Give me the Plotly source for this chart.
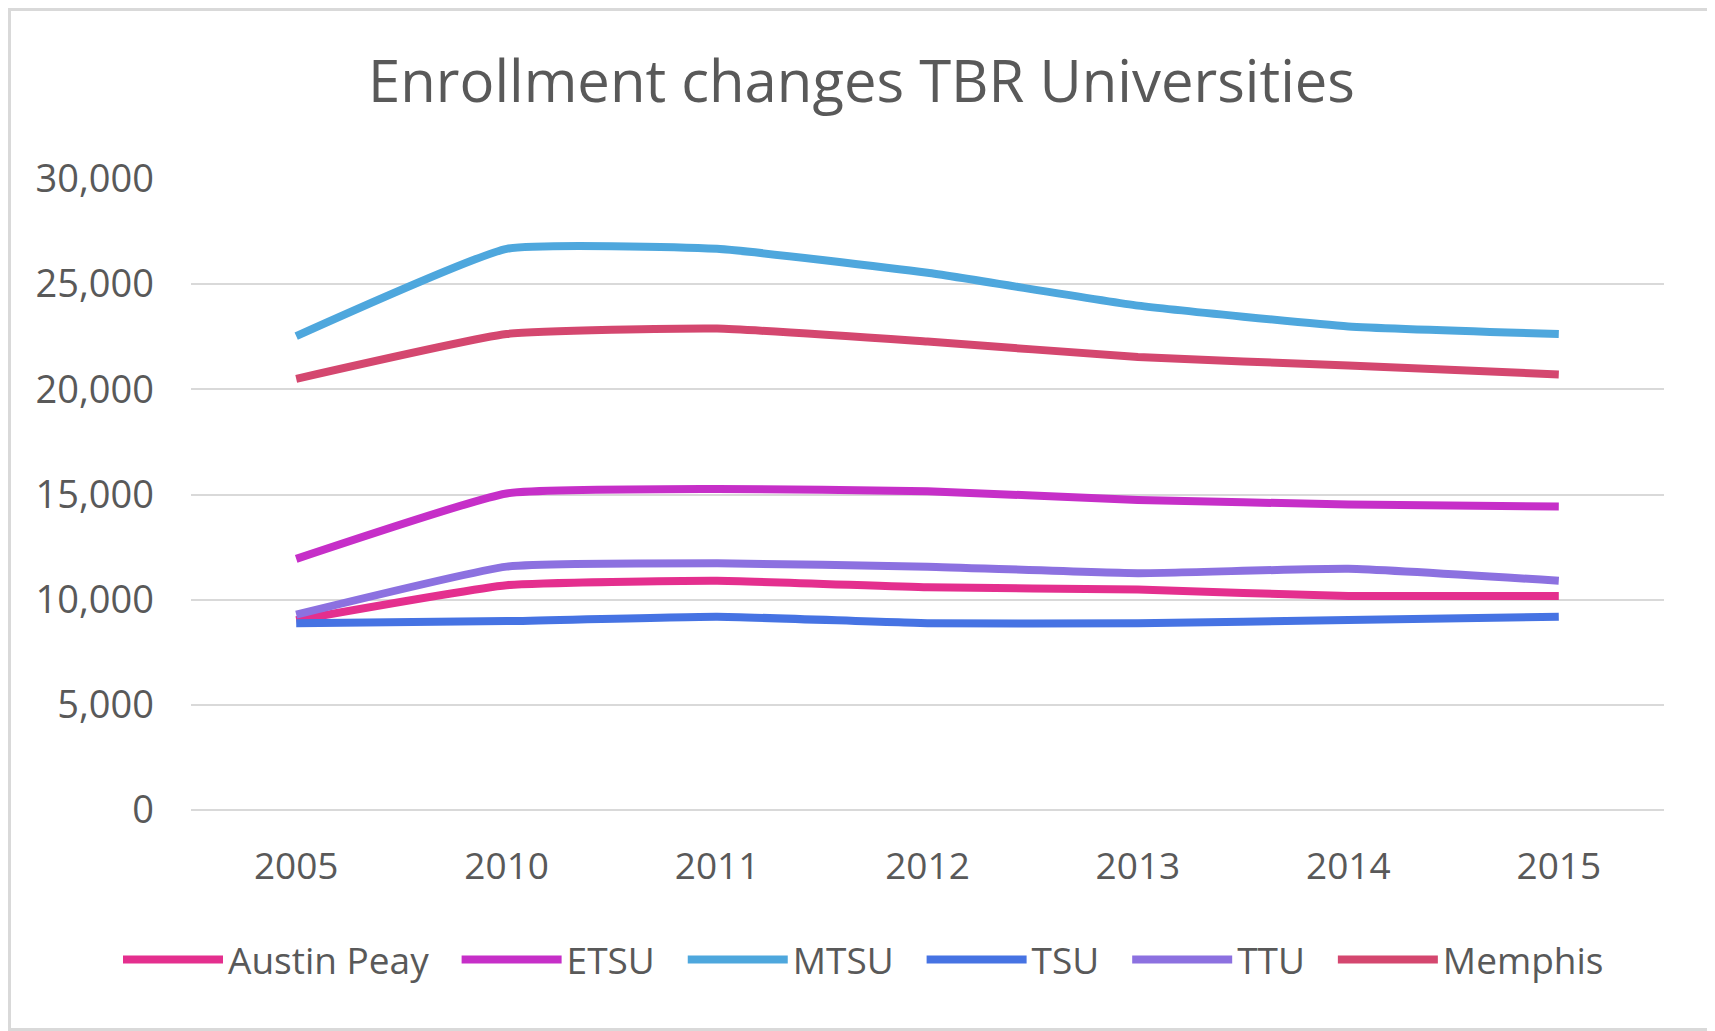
import plotly.graph_objects as go

# values
years = ['2005', '2010', '2011', '2012', '2013', '2014', '2015']
austin_peay = [9030, 10690, 10900, 10590, 10480, 10170, 10170]
etsu = [11940, 15050, 15260, 15160, 14740, 14530, 14430]
mtsu = [22530, 26680, 26680, 25540, 23980, 22990, 22630]
tsu = [8880, 8980, 9190, 8880, 8880, 9030, 9190]
ttu = [9290, 11570, 11730, 11570, 11260, 11470, 10900]
memphis = [20500, 22630, 22890, 22270, 21540, 21130, 20710]

series = [
    ('Austin Peay', austin_peay, '#E42F8E'),
    ('ETSU', etsu, '#C62FC8'),
    ('MTSU', mtsu, '#4EA7DD'),
    ('TSU', tsu, '#4673E3'),
    ('TTU', ttu, '#8C71E0'),
    ('Memphis', memphis, '#D4476F'),
]

# the page body has an 8px margin, so the figure is a bit smaller than the window
W, H = 1707, 1023
ml, mr, mt, mb = 183, 51, 171, 221
pw, ph = W - ml - mr, H - mt - mb

fig = go.Figure()
for i, (name, vals, col) in enumerate(series):
    # a little trailing space widens the gap between legend entries
    label = name if i == len(series) - 1 else name + '\u00a0\u00a0\u200a'
    fig.add_trace(go.Scatter(
        x=years, y=vals, name=label, mode='lines',
        line=dict(color=col, width=8, shape='spline', smoothing=0.4),
    ))

# legend anchored left of the plot area so it may use the left margin too (no wrapping)
fig.update_layout(
    width=W, height=H,
    margin=dict(l=ml, r=mr, t=mt, b=mb, autoexpand=False),
    plot_bgcolor='white', paper_bgcolor='white',
    title=dict(text='Enrollment changes TBR Universities', x=0.5, xanchor='center',
               y=1 - 74 / H, yanchor='middle',
               font=dict(family='Open Sans', size=58, color='#595959')),
    legend=dict(orientation='h', x=(110 - ml) / pw, xanchor='left', y=-150 / ph, yanchor='middle',
                font=dict(family='Open Sans', size=37, color='#595959'),
                itemwidth=100, tracegroupgap=0),
    showlegend=True,
)

fig.update_xaxes(type='category', range=[-0.5, len(years) - 0.5], showgrid=False, showline=False,
                 ticks='', automargin=False,
                 tickfont=dict(family='Open Sans', size=37, color='#595959'), ticklabelstandoff=31)
fig.update_yaxes(range=[0, 30000], dtick=5000, tickformat=',d', gridcolor='#D9D9D9', gridwidth=1.5,
                 zeroline=True, zerolinecolor='#D9D9D9', zerolinewidth=1.5, showline=False, ticks='',
                 automargin=False,
                 tickfont=dict(family='Open Sans', size=38, color='#595959'), ticklabelstandoff=36)

# light grey frame around the whole chart
fig.add_shape(type='rect', xref='paper', yref='paper',
              x0=-(ml - 1.5) / pw, x1=1 + (mr - 1.5) / pw,
              y0=-(mb - 1.5) / ph, y1=1 + (mt - 1.5) / ph,
              line=dict(color='#D9D9D9', width=3), layer='below')

fig.write_html('out.html')
